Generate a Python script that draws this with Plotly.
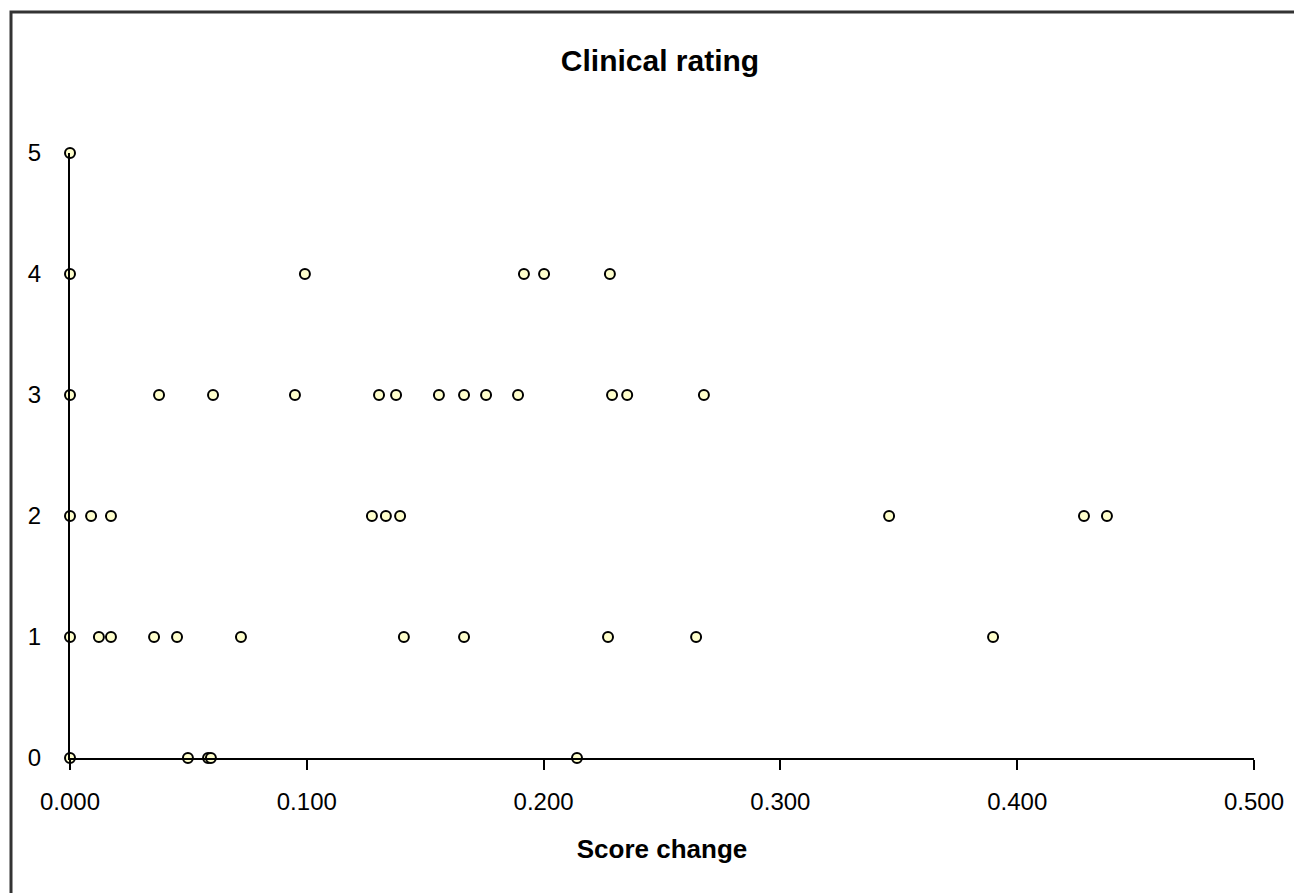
import plotly.graph_objects as go

# Data (score change, clinical rating)
rating_5 = [0.0]
rating_4 = [0.0, 0.0992, 0.1917, 0.2002, 0.2280]
rating_3 = [0.0, 0.0376, 0.0604, 0.0950, 0.1305, 0.1377, 0.1558, 0.1664,
            0.1757, 0.1892, 0.2289, 0.2353, 0.2677]
rating_2 = [0.0, 0.0089, 0.0173, 0.1275, 0.1334, 0.1394, 0.3459, 0.4282, 0.4379]
rating_1 = [0.0, 0.0122, 0.0173, 0.0355, 0.0452, 0.0722, 0.1410, 0.1664,
            0.2272, 0.2644, 0.3898]
rating_0 = [0.0, 0.0498, 0.0583, 0.0595, 0.2141]

groups = {5: rating_5, 4: rating_4, 3: rating_3, 2: rating_2, 1: rating_1, 0: rating_0}
score_change = []
clinical_rating = []
for r, xs in groups.items():
    score_change += xs
    clinical_rating += [r] * len(xs)

x_ticks = [0.0, 0.1, 0.2, 0.3, 0.4, 0.5]
x_tick_labels = ["0.000", "0.100", "0.200", "0.300", "0.400", "0.500"]
y_ticks = [0, 1, 2, 3, 4, 5]

FONT = "Liberation Sans, Arial, sans-serif"

fig = go.Figure()
fig.add_trace(go.Scatter(
    x=score_change, y=clinical_rating, mode="markers",
    marker=dict(symbol="circle", size=10, color="#FFFFCC",
                line=dict(color="black", width=2)),
    cliponaxis=False, showlegend=False,
))

fig.update_layout(
    width=1302, height=893,
    margin=dict(l=62, r=56, t=145, b=143),
    paper_bgcolor="white", plot_bgcolor="white",
    font=dict(family=FONT, color="black"),
    title=dict(text="<b>Clinical rating</b>", x=(660 - 8) / 1302, xanchor="center",
               y=1 - 52 / 893, yref="container", yanchor="middle",
               font=dict(size=30, family=FONT, color="black")),
    xaxis=dict(range=[0, 0.5], tickvals=x_ticks, ticktext=x_tick_labels,
               showgrid=False, zeroline=False, showline=True, linecolor="black",
               linewidth=2, ticks="outside", ticklen=10, tickwidth=2,
               tickcolor="black", ticklabelstandoff=11,
               tickfont=dict(size=24, family=FONT, color="black"),
               title=dict(text="<b>Score change</b>", standoff=26,
                          font=dict(size=26, family=FONT, color="black"))),
    yaxis=dict(range=[0, 5], tickvals=y_ticks, showgrid=False, zeroline=False,
               showline=True, linecolor="black", linewidth=2, ticks="",
               ticklabelstandoff=22,
               tickfont=dict(size=24, family=FONT, color="black")),
    shapes=[dict(type="rect", xref="paper", yref="paper",
                 x0=(11 - 70) / 1184, x1=1.2, y0=-0.4, y1=(758 - 12) / 605,
                 line=dict(color="#333333", width=3), layer="below")],
)

fig.write_html("out.html")
